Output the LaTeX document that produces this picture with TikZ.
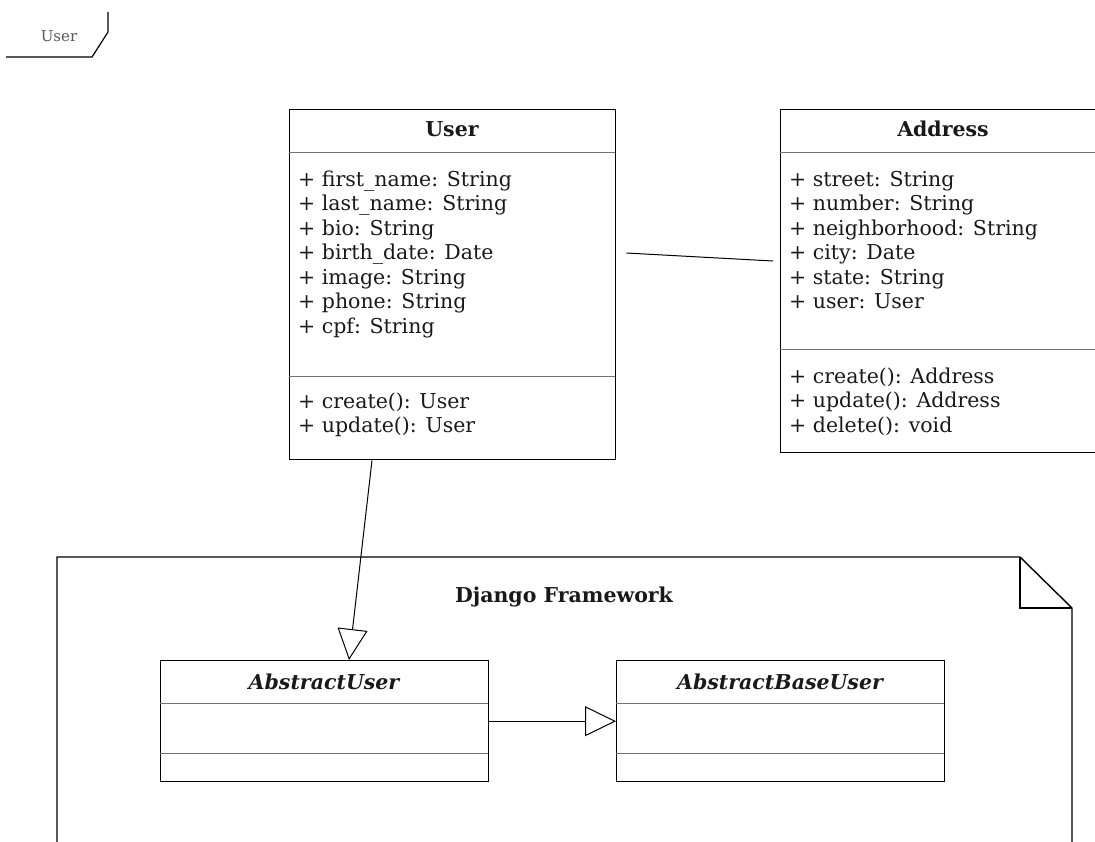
\documentclass[tikz,border=0pt]{standalone}
\usepackage{fontspec}
\setmainfont{DejaVu Serif}
\usetikzlibrary{arrows.meta,calc}

\tikzset{
  classbox/.style={draw, line width=1.4pt, anchor=north west, inner sep=0pt,
    minimum width=326pt},
  smallbox/.style={draw, line width=1.4pt, anchor=north west, inner sep=0pt,
    minimum width=328pt, minimum height=121pt},
  compsep/.style={draw=black!55, line width=0.9pt},
  member/.style={anchor=base west, inner sep=0pt, text=black!90,
    font=\fontsize{20.5}{24}\selectfont},
  classname/.style={anchor=base, inner sep=0pt, text=black!90,
    font=\fontsize{20.5}{24}\selectfont\bfseries},
  abstractname/.style={classname, font=\fontsize{20.5}{24}\selectfont\bfseries\itshape},
  assoc/.style={line width=1pt},
  generalize/.style={line width=1pt, -{Triangle[open, length=31pt, width=30pt, line width=1pt]}},
  frameline/.style={line width=1.4pt, line join=miter},
}

\begin{document}
\begin{tikzpicture}[x=1pt, y=-1pt]
\useasboundingbox (0,0) rectangle (1095,841);
\clip (0,0) rectangle (1095,841);

% diagram tab
\draw[line width=1.2pt] (6,57) -- (92,57) -- (108,32) -- (108,12);
\node[anchor=base, inner sep=0pt, text=black!65, font=\fontsize{15}{18}\selectfont] (tab) at (59,41) {User};

% class User
\node[classbox, minimum height=350pt] (user) at (289,109) {};
\node[classname] (usertitle) at (452,136) {User};
\draw[compsep] (289,152) -- (615,152);
\draw[compsep] (289,376) -- (615,376);
\foreach \t [count=\i] in {first\_name: String, last\_name: String, bio: String,
    birth\_date: Date, image: String, phone: String, cpf: String}
  \node[member] (userattr\i) at (298,{186+24.5*(\i-1)}) {+ \t};
\foreach \t [count=\i] in {create(): User, update(): User}
  \node[member] (usermeth\i) at (298,{408+24.5*(\i-1)}) {+ \t};

% class Address
\node[classbox, minimum height=343pt] (address) at (780,109) {};
\node[classname] (addresstitle) at (943,136) {Address};
\draw[compsep] (780,152) -- (1106,152);
\draw[compsep] (780,349) -- (1106,349);
\foreach \t [count=\i] in {street: String, number: String, neighborhood: String,
    city: Date, state: String, user: User}
  \node[member] (addrattr\i) at (789,{186+24.5*(\i-1)}) {+ \t};
\foreach \t [count=\i] in {create(): Address, update(): Address, delete(): void}
  \node[member] (addrmeth\i) at (789,{383+24.5*(\i-1)}) {+ \t};

% association between User and Address
\coordinate (assocA) at ($(user.north east)+(10,144)$);
\coordinate (assocB) at ($(address.north west)+(-7,152)$);
\draw[assoc] (assocA) -- (assocB);

% Django Framework package (note with folded corner)
\draw[frameline] (57,860) -- (57,557) -- (1020,557) -- (1072,608) -- (1072,860);
\draw[line width=1.1pt] (1020,557) -- (1020,608) -- (1072,608);
\node[classname] (django) at (564,602) {Django Framework};

% abstract classes
\node[smallbox] (absuser) at (160,660) {};
\node[abstractname] (absusertitle) at (324,689) {AbstractUser};
\draw[compsep] (160,703) -- (488,703);
\draw[compsep] (160,753) -- (488,753);

\node[smallbox] (absbase) at (616,660) {};
\node[abstractname] (absbasetitle) at (780,689) {AbstractBaseUser};
\draw[compsep] (616,703) -- (944,703);
\draw[compsep] (616,753) -- (944,753);

% generalizations
\draw[generalize] ($(user.south west)+(83,0)$) -- ($(absuser.north west)+(189,0)$);
\draw[generalize] (absuser.east) -- (absbase.west);
\end{tikzpicture}
\end{document}
